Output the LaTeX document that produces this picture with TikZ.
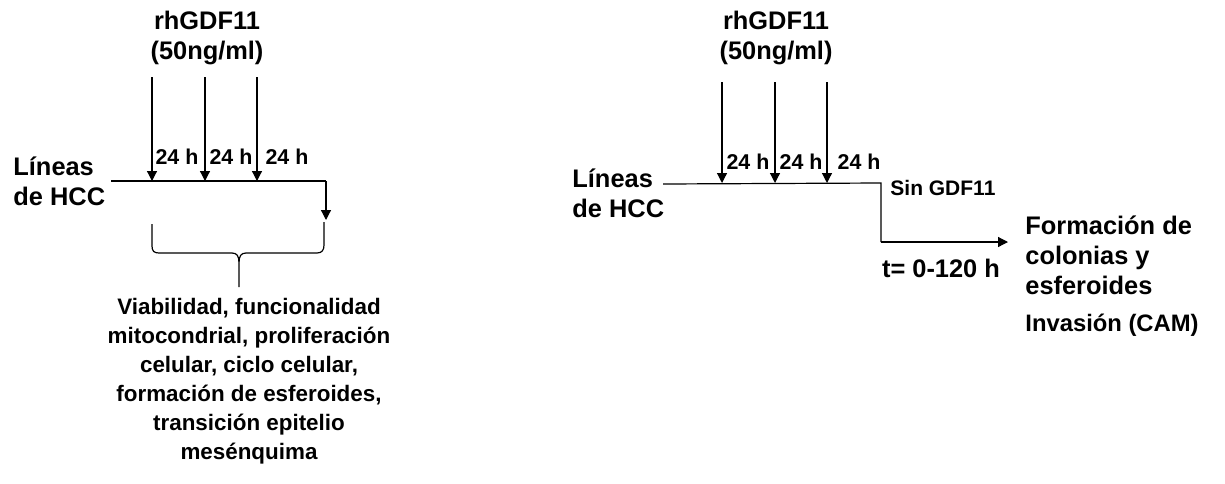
\documentclass[tikz,border=0pt]{standalone}
\usepackage{fontspec}
\setmainfont{Liberation Sans}
\usetikzlibrary{arrows.meta,positioning}
\tikzset{
  txt/.style={font=\bfseries\fontsize{12.7}{15}\selectfont, inner sep=0pt, align=center},
  small/.style={font=\bfseries\fontsize{10.7}{12.5}\selectfont, inner sep=0pt},
  arr/.style={-{Triangle[length=5pt,width=5pt]}, line width=0.6pt},
  ln/.style={line width=0.6pt},
}

\begin{document}
\begin{tikzpicture}[x=0.5pt, y=-0.5pt]
  \useasboundingbox (0,0) rectangle (1225,483);

  % left scheme
  \node[txt] (gdfA) at (207,38) {rhGDF11\\(50ng/ml)};
  \node[txt, align=left, anchor=west] (hccA) at (13,181) {Líneas\\de HCC};
  \foreach \x/\l [count=\i] in {152/177, 205/231, 257/287} {
    \coordinate (topA\i) at (\x,77);
    \coordinate (hitA\i) at (\x,181);
    \draw[arr] (topA\i) -- (hitA\i);
    \node[small] (hA\i) at (\l,157) {24 h};
  }
  \coordinate (startA) at (111,181);
  \coordinate (cornerA) at (326,181);
  \coordinate (endA) at (326,220);
  \draw[ln] (startA) -- (cornerA);
  \draw[arr] (cornerA) -- (endA);

  % brace
  \coordinate (braceL) at (152,224);
  \coordinate (braceR) at (324,222);
  \coordinate (braceTip) at (239,287);
  \draw[ln] (braceL) -- (152,246) .. controls (152,251) and (154,253) .. (159,253)
    -- (232,253) .. controls (237,253) and (239,256) .. (239,263) -- (braceTip)
    (239,263) .. controls (239,256) and (241,253) .. (246,253)
    -- (317,253) .. controls (322,253) and (324,250) .. (324,245) -- (braceR);

  \node[txt, font=\bfseries\fontsize{11.2}{14.5}\selectfont] (resA) at (249,381) {Viabilidad, funcionalidad\\mitocondrial, proliferación\\celular, ciclo celular,\\formación de esferoides,\\transición epitelio\\mesénquima};

  % right scheme
  \node[txt] (gdfB) at (776,38) {rhGDF11\\(50ng/ml)};
  \node[txt, align=left, anchor=west] (hccB) at (572,193) {Líneas\\de HCC};
  \foreach \x/\l [count=\i] in {722/748, 775/801, 827/859} {
    \coordinate (topB\i) at (\x,82);
    \coordinate (hitB\i) at (\x,183);
    \draw[arr] (topB\i) -- (hitB\i);
    \node[small] (hB\i) at (\l,162) {24 h};
  }
  \coordinate (startB) at (663,184);
  \coordinate (cornerB) at (881,183);
  \coordinate (downB) at (881,242);
  \coordinate (endB) at (1008,242);
  \draw[ln] (startB) -- (cornerB) -- (downB);
  \draw[arr] (downB) -- (endB);
  \node[small, font=\bfseries\fontsize{10.5}{12.5}\selectfont, anchor=west] (sinB) at (890,188) {Sin GDF11};
  \node[txt] (tB) at (941,268) {t= 0-120 h};
  \node[txt, align=left, anchor=west] (colB) at (1025,255) {Formación de\\colonias y\\esferoides};
  \node[txt, font=\bfseries\fontsize{11.9}{14}\selectfont, anchor=west] (invB) at (1025,325) {Invasión (CAM)};
\end{tikzpicture}
\end{document}
